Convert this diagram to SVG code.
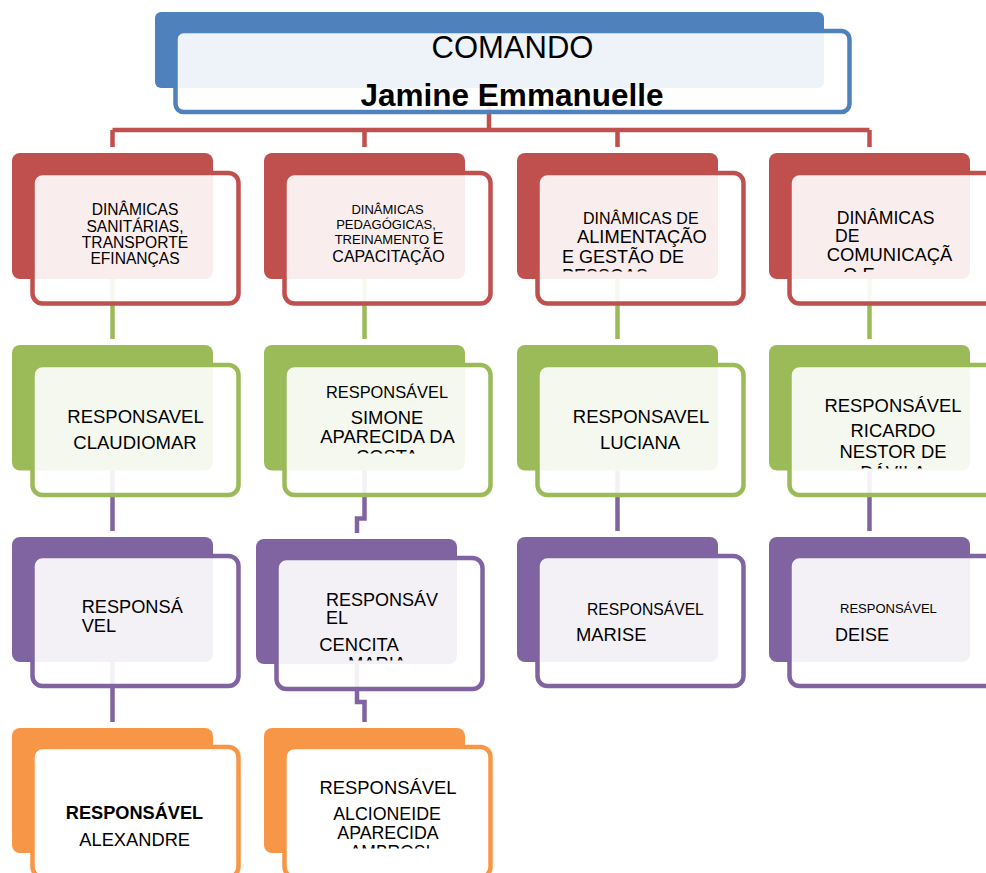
<svg xmlns="http://www.w3.org/2000/svg" width="986" height="873" viewBox="0 0 986 873">
<style>
text{font-family:"Liberation Sans",Arial,sans-serif;fill:#000}
.m{text-anchor:middle}
.b{font-weight:bold}
.front{fill:#fff;fill-opacity:0.9;stroke-width:4.5}
.blue{fill:#4f81bd}.fblue{stroke:#4f81bd}
.red{fill:#c0504d}.fred{stroke:#c0504d}
.grn{fill:#9bbb59}.fgrn{stroke:#9bbb59}
.pur{fill:#8064a2}.fpur{stroke:#8064a2}
.org{fill:#f79646}.forg{stroke:#f79646;fill-opacity:1}
.cn{fill:none;stroke-width:4.5}
</style>
<defs>
<clipPath id="k31"><rect x="517" y="153" width="240" height="118.5"/></clipPath>
<clipPath id="k41"><rect x="769" y="153" width="240" height="119"/></clipPath>
<clipPath id="k22"><rect x="264" y="345" width="240" height="108.5"/></clipPath>
<clipPath id="k42"><rect x="769" y="345" width="240" height="123.5"/></clipPath>
<clipPath id="k23"><rect x="256" y="539" width="240" height="121.5"/></clipPath>
<clipPath id="k24"><rect x="264" y="728" width="240" height="120.5"/></clipPath>
</defs>
<rect width="986" height="873" fill="#fff"/>
<g id="connectors">
<path class="cn" stroke="#c0504d" stroke-width="4" d="M489,88V130M112.5,130H869.5M112.5,130V147M364.5,130V147M617.5,130V147M869.5,130V147"/>
<path class="cn" stroke="#9bbb59" d="M112.5,279V339M364.5,279V339M617.5,279V339M869.5,279V339"/>
<path class="cn" stroke="#8064a2" d="M112.5,470.5V531M364.5,470.5V518.5H357V533M617.5,470.5V531M869.5,470.5V531M112.5,662V722M357,664V702H364.5V722"/>
</g>
<g id="comando">
<rect class="blue" x="155" y="12" width="669" height="76" rx="6"/>
<rect class="front fblue" x="175.5" y="31" width="674" height="81" rx="8"/>
<text class="m" x="512.5" y="58" font-size="31">COMANDO</text>
<text class="m b" x="512" y="106" font-size="31.5">Jamine Emmanuelle</text>
</g>
<g id="d1">
<rect class="red" x="12" y="153" width="201" height="126" rx="8"/>
<rect class="front fred" x="32.5" y="173" width="206" height="130.5" rx="10"/>
<text class="m" font-size="15.6"><tspan x="135" y="215">DINÂMICAS</tspan><tspan x="135" y="231.5">SANITÁRIAS,</tspan><tspan x="135" y="247.7">TRANSPORTE</tspan><tspan x="135" y="264">EFINANÇAS</tspan></text>
</g>
<g id="d2">
<rect class="red" x="264" y="153" width="201" height="126" rx="8"/>
<rect class="front fred" x="284.5" y="173" width="206" height="130.5" rx="10"/>
<text class="m" font-size="13"><tspan x="387.5" y="214">DINÂMICAS</tspan><tspan x="386" y="229">PEDAGÓGICAS,</tspan><tspan x="389" y="244">TREINAMENTO <tspan font-size="16">E</tspan></tspan><tspan x="388.5" y="261.7" font-size="16">CAPACITAÇÃO</tspan></text>
</g>
<g id="d3">
<rect class="red" x="517" y="153" width="201" height="126" rx="8"/>
<rect class="front fred" x="537.5" y="173" width="206" height="130.5" rx="10"/>
<text x="583" y="224" font-size="16">DINÂMICAS DE</text>
<text x="577" y="243" font-size="18.3">ALIMENTAÇÃO</text>
<text x="562" y="262.7" font-size="18">E GESTÃO DE</text>
<text x="562" y="282" font-size="18" clip-path="url(#k31)">PESSOAS</text>
</g>
<g id="d4">
<rect class="red" x="769" y="153" width="201" height="126" rx="8"/>
<rect class="front fred" x="789.5" y="173" width="206" height="130.5" rx="10"/>
<text font-size="17.6"><tspan x="836.7" y="223.5">DINÂMICAS</tspan><tspan x="835" y="241.7">DE</tspan><tspan x="826.7" y="261" font-size="18.4">COMUNICAÇÃ</tspan></text>
<text x="843" y="280.5" font-size="18.4" clip-path="url(#k41)">O E</text>
</g>
<g id="r1">
<rect class="grn" x="12" y="345" width="201" height="125.5" rx="8"/>
<rect class="front fgrn" x="32.5" y="365" width="206" height="130" rx="10"/>
<text class="m" font-size="18.5"><tspan x="135.5" y="422.7">RESPONSAVEL</tspan><tspan x="135" y="449">CLAUDIOMAR</tspan></text>
</g>
<g id="r2">
<rect class="grn" x="264" y="345" width="201" height="125.5" rx="8"/>
<rect class="front fgrn" x="284.5" y="365" width="206" height="130" rx="10"/>
<text class="m" x="387" y="398.3" font-size="16.4">RESPONSÁVEL</text>
<text class="m" font-size="18.4"><tspan x="387" y="424">SIMONE</tspan><tspan x="387.5" y="443.3">APARECIDA DA</tspan></text>
<text class="m" x="387" y="463" font-size="18.4" clip-path="url(#k22)">COSTA</text>
</g>
<g id="r3">
<rect class="grn" x="517" y="345" width="201" height="125.5" rx="8"/>
<rect class="front fgrn" x="537.5" y="365" width="206" height="130" rx="10"/>
<text class="m" font-size="18.5"><tspan x="641" y="422.7">RESPONSAVEL</tspan><tspan x="640" y="449">LUCIANA</tspan></text>
</g>
<g id="r4">
<rect class="grn" x="769" y="345" width="201" height="125.5" rx="8"/>
<rect class="front fgrn" x="789.5" y="365" width="206" height="130" rx="10"/>
<text class="m" font-size="18.4"><tspan x="893" y="411.7">RESPONSÁVEL</tspan><tspan x="893" y="437.3">RICARDO</tspan><tspan x="893" y="458.3">NESTOR DE</tspan></text>
<text class="m" x="893" y="479" font-size="18.4" clip-path="url(#k42)">DÁVILA</text>
</g>
<g id="p1">
<rect class="pur" x="12" y="537" width="201" height="125" rx="8"/>
<rect class="front fpur" x="32.5" y="556" width="206" height="130" rx="10"/>
<text font-size="18.2"><tspan x="81.7" y="613">RESPONSÁ</tspan><tspan x="81.7" y="632">VEL</tspan></text>
</g>
<g id="p2">
<rect class="pur" x="256" y="539" width="201" height="125" rx="8"/>
<rect class="front fpur" x="276.5" y="558" width="206" height="131" rx="10"/>
<text font-size="18"><tspan x="326" y="605.5">RESPONSÁV</tspan><tspan x="326" y="624.3">EL</tspan><tspan x="319.3" y="650.7" font-size="18.4">CENCITA</tspan></text>
<text x="348" y="670" font-size="18.4" clip-path="url(#k23)">MARIA</text>
</g>
<g id="p3">
<rect class="pur" x="517" y="537" width="201" height="125" rx="8"/>
<rect class="front fpur" x="537.5" y="556" width="206" height="130" rx="10"/>
<text x="587" y="615" font-size="15.7">RESPONSÁVEL</text>
<text x="576" y="641" font-size="18.4">MARISE</text>
</g>
<g id="p4">
<rect class="pur" x="769" y="537" width="201" height="125" rx="8"/>
<rect class="front fpur" x="789.5" y="556" width="206" height="130" rx="10"/>
<text x="840" y="612.7" font-size="13">RESPONSÁVEL</text>
<text x="835" y="641" font-size="18">DEISE</text>
</g>
<g id="o1">
<rect class="org" x="12" y="728" width="201" height="125" rx="8"/>
<rect class="front forg" x="32.5" y="747" width="206" height="130" rx="10"/>
<text class="m b" x="134.5" y="819.3" font-size="18.2">RESPONSÁVEL</text>
<text class="m" x="134.7" y="846" font-size="18.3">ALEXANDRE</text>
</g>
<g id="o2">
<rect class="org" x="264" y="728" width="201" height="125" rx="8"/>
<rect class="front forg" x="284.5" y="747" width="206" height="130" rx="10"/>
<text class="m" font-size="18.4"><tspan x="388" y="794">RESPONSÁVEL</tspan><tspan x="387" y="820.2" font-size="17.8">ALCIONEIDE</tspan><tspan x="388" y="839.2" font-size="17.8">APARECIDA</tspan></text>
<text class="m" x="390" y="858" font-size="17.5" clip-path="url(#k24)">AMBROSI</text>
</g>
</svg>
